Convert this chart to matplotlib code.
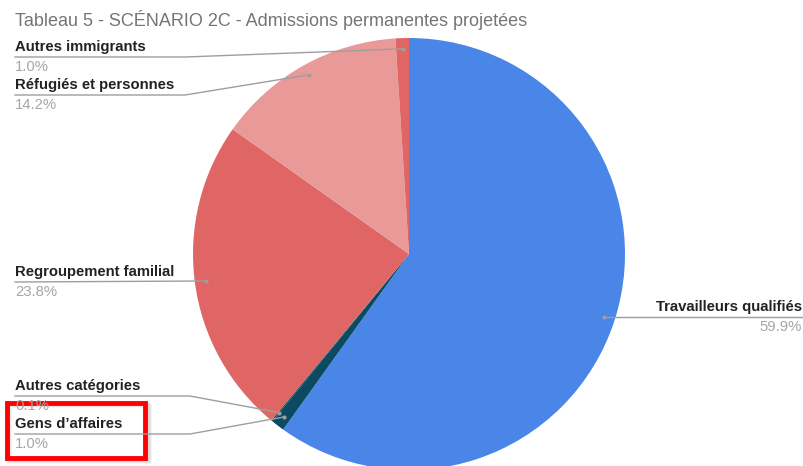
import numpy as np
import matplotlib.pyplot as plt
from matplotlib.patches import Rectangle

plt.rcParams['font.family'] = ['Liberation Sans', 'DejaVu Sans']

labels = ['Travailleurs qualifiés', "Gens d\u2019affaires", 'Autres catégories',
          'Regroupement familial', 'Réfugiés et personnes', 'Autres immigrants']
values = [59.9, 1.0, 0.1, 23.8, 14.2, 1.0]
pct_labels = ['59.9%', '1.0%', '0.1%', '23.8%', '14.2%', '1.0%']
colors = ['#4a86e8', '#0c4a64', '#134f5c', '#e06666', '#ea9999', '#e06666']

W, H = 804, 466
fig = plt.figure(figsize=(W / 100, H / 100), dpi=100)
ax = fig.add_axes([0, 0, 1, 1])

def py(y):
    # pixel row -> data y (y axis points up)
    return H - y

cx, cy, R = 409, py(254), 216
wedges, _ = ax.pie(values, colors=colors, startangle=90, counterclock=False,
                   center=(cx, cy), radius=R, wedgeprops=dict(linewidth=0))
ax.set_xlim(0, W)
ax.set_ylim(0, H)
ax.set_aspect('equal')
ax.axis('off')

# anchor dots on each wedge
dots = []
for w in wedges:
    a = np.deg2rad((w.theta1 + w.theta2) / 2)
    dots.append((cx + 0.95 * R * np.cos(a), cy + 0.95 * R * np.sin(a)))

lc = '#9e9e9e'
name_c = '#222222'
pct_c = '#a6a6a6'
fs = 10.7

# label layout: (line y in px, elbow x in px, side)
layout = {
    0: (317, None, 'right'),
    1: (434, 190, 'left'),
    2: (396, 190, 'left'),
    3: (282, None, 'left'),
    4: (95, 185, 'left'),
    5: (57, 185, 'left'),
}

for i, (ly, ex, side) in layout.items():
    dx, dy = dots[i]
    yl = py(ly)
    if side == 'right':
        ax.plot([dx, 803], [yl, yl], color=lc, lw=1, solid_capstyle='butt')
        ax.text(802, yl + 3, labels[i], ha='right', va='bottom', fontsize=fs,
                color=name_c, fontweight='bold')
        ax.text(802, yl - 3, pct_labels[i], ha='right', va='top', fontsize=fs,
                color=pct_c)
    else:
        if ex is None:
            ax.plot([15, dx], [yl, dy], color=lc, lw=1)
        else:
            ax.plot([15, ex, dx], [yl, yl, dy], color=lc, lw=1)
        ax.text(15, yl + 3, labels[i], ha='left', va='bottom', fontsize=fs,
                color=name_c, fontweight='bold')
        ax.text(15, yl - 3, pct_labels[i], ha='left', va='top', fontsize=fs,
                color=pct_c)
    ax.plot(dx, dy, 'o', ms=3, color=lc, mec='none')

ax.text(15, py(20), 'Tableau 5 - SCÉNARIO 2C - Admissions permanentes projetées',
        ha='left', va='center', fontsize=13, color='#757575')

# red highlight box with soft shadow
for k, al in enumerate([0.06, 0.05, 0.04]):
    ax.add_patch(Rectangle((7 + k + 1, py(458) - k - 2), 140, 56, fill=False,
                           ec='black', lw=3, alpha=al))
ax.add_patch(Rectangle((7, py(458)), 138, 55, fill=False, ec='#ff0000', lw=3.5))

fig.savefig('out.png', dpi=100)
